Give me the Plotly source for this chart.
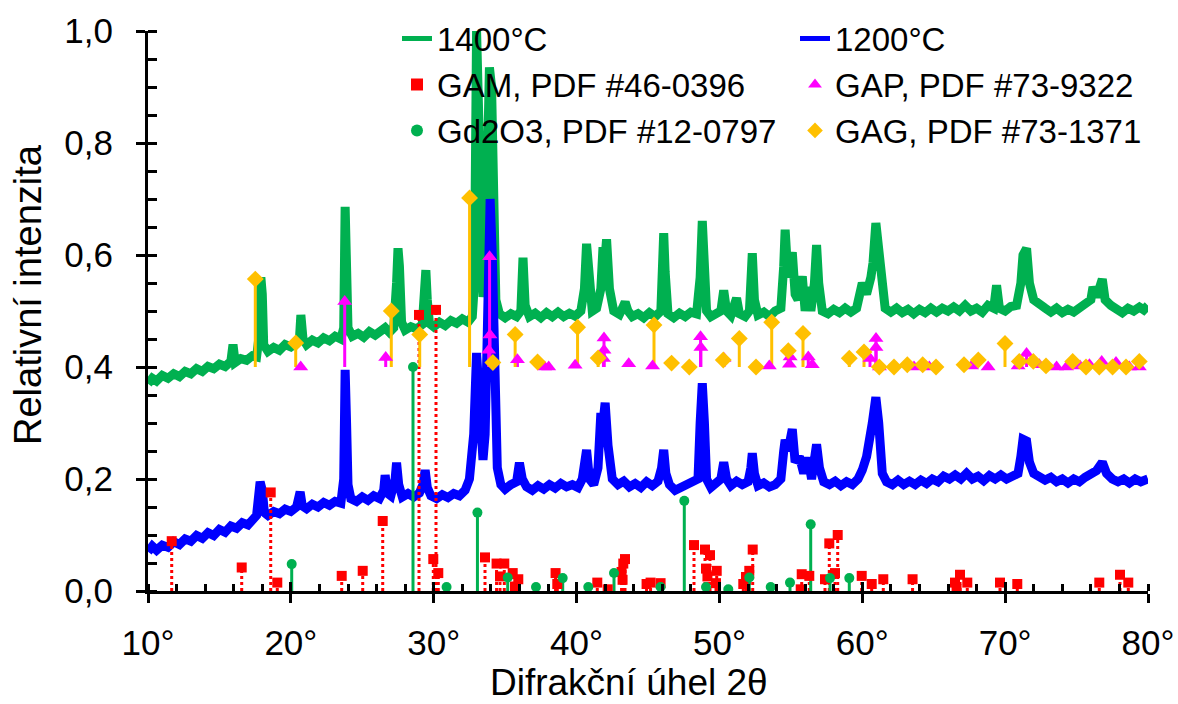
import plotly.graph_objects as go

# ---------------- data ----------------
# 1400 °C spectrum (2theta, relative intensity)
x_1400 = [10.0, 10.3, 10.6, 11.0, 11.4, 11.8, 12.2, 12.6, 13.0, 13.4, 13.8, 14.2, 14.6, 15.0, 15.4, 15.8, 15.95, 16.1,
          16.5, 16.9, 17.3, 17.6, 17.8, 17.9, 18.0, 18.1, 18.4, 18.8, 19.2, 19.6, 20.0, 20.4, 20.6, 20.7, 20.85, 21.1,
          21.5, 21.9, 22.3, 22.7, 23.1, 23.5, 23.7, 23.8, 23.9, 24.0, 24.3, 24.7, 25.1, 25.5, 25.9, 26.3, 26.6, 26.9,
          27.2, 27.4, 27.5, 27.6, 27.75, 28.0, 28.4, 28.8, 29.2, 29.35, 29.45, 29.55, 29.7, 30.0, 30.4, 30.8, 31.2,
          31.6, 32.0, 32.4, 32.7, 32.85, 33.0, 33.15, 33.3, 33.45, 33.6, 33.75, 33.9, 34.05, 34.2, 34.35, 34.6, 35.0,
          35.4, 35.8, 36.1, 36.25, 36.4, 36.7, 37.1, 37.5, 37.9, 38.3, 38.7, 39.1, 39.5, 39.9, 40.3, 40.55, 40.7,
          40.85, 41.1, 41.4, 41.7, 41.85, 41.95, 42.1, 42.3, 42.6, 43.0, 43.3, 43.4, 43.6, 43.9, 44.3, 44.7, 45.1,
          45.5, 45.9, 46.0, 46.1, 46.2, 46.4, 46.8, 47.2, 47.6, 48.0, 48.4, 48.65, 48.8, 48.95, 49.1, 49.4, 49.8,
          50.1, 50.3, 50.5, 50.8, 51.2, 51.4, 51.8, 52.1, 52.3, 52.45, 52.7, 53.1, 53.5, 53.9, 54.3, 54.5, 54.6,
          54.8, 55.1, 55.3, 55.5, 55.8, 56.0, 56.2, 56.4, 56.65, 56.8, 56.95, 57.2, 57.6, 58.0, 58.4, 58.8, 59.2,
          59.6, 60.0, 60.3, 60.6, 60.75, 60.95, 61.1, 61.3, 61.6, 62.0, 62.4, 62.8, 63.2, 63.6, 64.0, 64.4, 64.8,
          65.2, 65.6, 66.0, 66.4, 66.8, 67.2, 67.6, 68.0, 68.4, 68.8, 69.2, 69.4, 69.6, 70.0, 70.4, 70.8, 71.1,
          71.25, 71.5, 71.7, 72.0, 72.4, 72.8, 73.2, 73.6, 74.0, 74.4, 74.8, 75.2, 75.6, 76.0, 76.15, 76.4, 76.8,
          77.0, 77.4, 77.8, 78.2, 78.6, 79.0, 79.4, 79.7, 80.0]
y_1400 = [0.370, 0.380, 0.375, 0.385, 0.380, 0.388, 0.383, 0.392, 0.388, 0.397, 0.392, 0.401, 0.397, 0.405, 0.401,
          0.410, 0.440, 0.408, 0.415, 0.412, 0.420, 0.418, 0.460, 0.560, 0.530, 0.440, 0.428, 0.435, 0.430, 0.440,
          0.436, 0.443, 0.450, 0.493, 0.450, 0.440, 0.448, 0.443, 0.452, 0.447, 0.455, 0.450, 0.470, 0.686, 0.600,
          0.470, 0.455, 0.460, 0.453, 0.463, 0.457, 0.465, 0.470, 0.462, 0.470, 0.550, 0.612, 0.580, 0.480, 0.466,
          0.472, 0.468, 0.476, 0.520, 0.573, 0.520, 0.478, 0.472, 0.480, 0.474, 0.483, 0.478, 0.486, 0.480, 0.490,
          0.550, 1.000, 0.850, 0.550, 0.525, 0.560, 0.750, 0.935, 0.900, 0.620, 0.520, 0.495, 0.488, 0.495, 0.490,
          0.500, 0.595, 0.510, 0.490, 0.496, 0.488, 0.497, 0.490, 0.498, 0.490, 0.496, 0.491, 0.500, 0.540, 0.620,
          0.550, 0.500, 0.505, 0.540, 0.614, 0.580, 0.628, 0.540, 0.500, 0.494, 0.510, 0.516, 0.500, 0.490, 0.495,
          0.488, 0.497, 0.490, 0.500, 0.560, 0.639, 0.570, 0.495, 0.488, 0.496, 0.490, 0.498, 0.495, 0.560, 0.661,
          0.600, 0.500, 0.490, 0.497, 0.500, 0.537, 0.500, 0.492, 0.523, 0.495, 0.490, 0.500, 0.603, 0.520, 0.493,
          0.498, 0.490, 0.500, 0.505, 0.580, 0.645, 0.560, 0.605, 0.530, 0.520, 0.562, 0.500, 0.543, 0.500, 0.550,
          0.618, 0.550, 0.500, 0.495, 0.503, 0.497, 0.505, 0.498, 0.505, 0.550, 0.530, 0.560, 0.586, 0.657, 0.620,
          0.540, 0.505, 0.498, 0.505, 0.497, 0.503, 0.495, 0.503, 0.497, 0.505, 0.498, 0.505, 0.500, 0.507, 0.500,
          0.510, 0.500, 0.505, 0.498, 0.510, 0.505, 0.546, 0.505, 0.500, 0.508, 0.510, 0.550, 0.600, 0.612, 0.550,
          0.520, 0.510, 0.505, 0.498, 0.505, 0.497, 0.503, 0.498, 0.505, 0.510, 0.520, 0.543, 0.525, 0.557, 0.520,
          0.510, 0.503, 0.497, 0.505, 0.500, 0.507, 0.502, 0.510]

# 1200 °C spectrum
x_1200 = [10.0, 10.3, 10.6, 11.0, 11.4, 11.8, 12.2, 12.6, 13.0, 13.4, 13.8, 14.2, 14.6, 15.0, 15.4, 15.8, 16.2, 16.6,
          17.0, 17.3, 17.6, 17.85, 18.0, 18.15, 18.4, 18.8, 19.2, 19.6, 20.0, 20.4, 20.55, 20.65, 20.8, 21.1, 21.5,
          21.9, 22.3, 22.7, 23.1, 23.5, 23.7, 23.8, 23.9, 24.0, 24.2, 24.6, 25.0, 25.4, 25.8, 26.2, 26.5, 26.6,
          26.75, 27.0, 27.3, 27.4, 27.55, 27.8, 28.2, 28.6, 29.0, 29.25, 29.4, 29.55, 29.8, 30.2, 30.6, 31.0, 31.4,
          31.8, 32.2, 32.5, 32.8, 33.0, 33.15, 33.3, 33.45, 33.6, 33.8, 33.95, 34.1, 34.25, 34.45, 34.7, 35.0, 35.4,
          35.8, 36.0, 36.2, 36.5, 36.9, 37.3, 37.7, 38.1, 38.5, 38.9, 39.3, 39.7, 40.1, 40.4, 40.7, 40.9, 41.2,
          41.5, 41.7, 41.85, 42.0, 42.2, 42.5, 42.9, 43.3, 43.7, 44.1, 44.5, 44.9, 45.3, 45.7, 45.95, 46.1, 46.25,
          46.5, 46.9, 47.3, 47.7, 48.1, 48.5, 48.65, 48.8, 48.95, 49.1, 49.4, 49.8, 50.1, 50.3, 50.5, 50.8, 51.2,
          51.6, 52.0, 52.2, 52.3, 52.45, 52.7, 53.1, 53.5, 53.9, 54.3, 54.5, 54.6, 54.8, 55.1, 55.3, 55.6, 55.9,
          56.2, 56.45, 56.7, 56.8, 57.0, 57.3, 57.7, 58.1, 58.5, 58.9, 59.3, 59.7, 60.0, 60.3, 60.7, 60.95, 61.15,
          61.4, 61.7, 62.1, 62.5, 62.9, 63.3, 63.7, 64.1, 64.5, 64.9, 65.3, 65.7, 66.1, 66.5, 66.9, 67.3, 67.7,
          68.1, 68.5, 68.9, 69.3, 69.7, 70.1, 70.5, 70.9, 71.1, 71.25, 71.5, 71.7, 72.0, 72.4, 72.8, 73.2, 73.6,
          74.0, 74.4, 74.8, 75.2, 75.6, 76.0, 76.4, 76.8, 77.1, 77.5, 77.9, 78.3, 78.7, 79.1, 79.5, 80.0]
y_1200 = [0.070, 0.080, 0.073, 0.082, 0.078, 0.088, 0.083, 0.093, 0.089, 0.099, 0.094, 0.104, 0.099, 0.110, 0.105,
          0.116, 0.112, 0.122, 0.118, 0.128, 0.135, 0.195, 0.180, 0.140, 0.135, 0.142, 0.138, 0.146, 0.142, 0.150,
          0.160, 0.177, 0.152, 0.147, 0.155, 0.150, 0.158, 0.153, 0.160, 0.157, 0.200, 0.395, 0.300, 0.190, 0.165,
          0.160, 0.168, 0.162, 0.170, 0.165, 0.180, 0.207, 0.175, 0.170, 0.200, 0.229, 0.190, 0.168, 0.174, 0.168,
          0.175, 0.190, 0.216, 0.185, 0.170, 0.165, 0.172, 0.167, 0.174, 0.170, 0.180, 0.200, 0.280, 0.425, 0.330,
          0.245, 0.234, 0.280, 0.550, 0.700, 0.600, 0.350, 0.220, 0.190, 0.182, 0.190, 0.195, 0.229, 0.200, 0.186,
          0.180, 0.188, 0.182, 0.190, 0.184, 0.192, 0.186, 0.190, 0.185, 0.200, 0.252, 0.200, 0.190, 0.220, 0.318,
          0.300, 0.336, 0.260, 0.200, 0.190, 0.196, 0.186, 0.192, 0.185, 0.195, 0.188, 0.196, 0.220, 0.252, 0.210,
          0.190, 0.180, 0.186, 0.190, 0.195, 0.200, 0.300, 0.371, 0.300, 0.200, 0.185, 0.192, 0.200, 0.230, 0.200,
          0.188, 0.196, 0.190, 0.195, 0.220, 0.246, 0.210, 0.188, 0.193, 0.186, 0.190, 0.200, 0.250, 0.270, 0.250,
          0.289, 0.230, 0.240, 0.210, 0.238, 0.200, 0.240, 0.262, 0.220, 0.195, 0.190, 0.196, 0.188, 0.195, 0.190,
          0.200, 0.216, 0.240, 0.300, 0.346, 0.300, 0.210, 0.195, 0.190, 0.198, 0.190, 0.196, 0.190, 0.198, 0.192,
          0.200, 0.195, 0.205, 0.200, 0.207, 0.200, 0.210, 0.200, 0.205, 0.197, 0.206, 0.200, 0.207, 0.200, 0.205,
          0.210, 0.240, 0.271, 0.268, 0.230, 0.210, 0.205, 0.198, 0.203, 0.195, 0.200, 0.193, 0.200, 0.195, 0.203,
          0.208, 0.215, 0.230, 0.210, 0.200, 0.195, 0.200, 0.193, 0.200, 0.195, 0.200]

# Reference patterns (2theta, relative intensity); sticks start at a base level
gam_x = [11.66, 16.56, 18.59, 19.05, 23.56, 25.03, 26.43, 28.97, 29.97, 30.16, 30.32, 33.59, 34.40, 34.64, 34.94,
         35.53, 35.69, 35.92, 38.53, 38.65, 41.45, 42.18, 43.15, 43.27, 43.39, 43.22, 44.90, 45.18, 45.88, 48.22,
         48.99, 49.06, 49.16, 49.34, 49.76, 49.81, 51.67, 51.86, 52.09, 52.33, 55.69, 55.76, 56.29, 57.39, 57.69,
         58.09, 58.28, 59.96, 60.66, 61.47, 63.52, 66.49, 66.60, 66.84, 67.35, 69.64, 70.85, 76.59, 78.04, 78.62]
gam_y = [0.089, 0.042, 0.176, 0.015, 0.027, 0.036, 0.125, 0.493, 0.057, 0.502, 0.032, 0.060, 0.049, 0.026, 0.049,
         0.032, 0.008, 0.021, 0.032, 0.0125, 0.015, 0.003, 0.034, 0.049, 0.057, 0.020, 0.0125, 0.015, 0.014, 0.082,
         0.074, 0.040, 0.026, 0.064, 0.014, 0.036, 0.0125, 0.025, 0.036, 0.074, 0.003, 0.030, 0.027, 0.021, 0.085,
         0.032, 0.100, 0.027, 0.0125, 0.021, 0.021, 0.015, 0.003, 0.029, 0.015, 0.015, 0.0125, 0.015, 0.029, 0.015]

gap_x = [20.69, 23.77, 26.64, 33.85, 33.91, 33.94, 35.86, 37.76, 38.05, 39.90, 41.88, 41.92, 41.92, 43.65, 45.32,
         48.68, 48.70, 50.32, 53.49, 54.90, 54.95, 56.22, 56.50, 60.54, 60.96, 60.96, 61.20, 63.62, 64.69, 67.65,
         68.81, 70.91, 71.50, 72.39, 73.60, 74.30, 75.24, 75.90, 76.76, 77.76, 78.69, 79.39]
gap_y = [0.400, 0.517, 0.417, 0.430, 0.597, 0.457, 0.413, 0.400, 0.400, 0.403, 0.415, 0.430, 0.452, 0.406, 0.402,
         0.454, 0.435, 0.415, 0.402, 0.405, 0.418, 0.418, 0.404, 0.415, 0.435, 0.451, 0.400, 0.400, 0.400, 0.402,
         0.400, 0.402, 0.424, 0.404, 0.400, 0.400, 0.402, 0.404, 0.410, 0.408, 0.400, 0.400]

gd2o3_x = [20.06, 28.55, 30.90, 33.06, 35.18, 37.16, 39.03, 40.82, 42.62, 45.88, 47.54, 49.06, 50.62, 52.09, 53.59,
           54.94, 56.39, 57.74, 59.09]
gd2o3_y = [0.048, 0.400, 0.007, 0.140, 0.024, 0.007, 0.023, 0.007, 0.032, 0.007, 0.161, 0.007, 0.003, 0.024, 0.007,
           0.015, 0.119, 0.023, 0.023]

gag_x = [17.51, 20.34, 27.03, 29.02, 32.51, 34.14, 35.70, 37.27, 40.07, 41.51, 45.42, 46.65, 47.89, 50.27, 51.39,
         52.56, 53.66, 54.82, 55.85, 59.09, 60.12, 61.19, 62.22, 63.15, 64.23, 65.16, 67.12, 68.12, 69.99, 70.99,
         71.97, 72.86, 74.73, 75.66, 76.59, 77.52, 78.46, 79.39]
gag_y = [0.557, 0.443, 0.500, 0.458, 0.702, 0.408, 0.458, 0.409, 0.471, 0.416, 0.475, 0.407, 0.400, 0.4125, 0.451,
         0.400, 0.480, 0.429, 0.460, 0.4155, 0.427, 0.400, 0.400, 0.404, 0.404, 0.400, 0.404, 0.4125, 0.442, 0.410,
         0.410, 0.402, 0.410, 0.400, 0.400, 0.400, 0.400, 0.410]

BASE_LOW = 0.0
BASE_HIGH = 0.4

x_ticks = [10, 20, 30, 40, 50, 60, 70, 80]
x_tick_text = ["10°", "20°", "30°", "40°", "50°", "60°", "70°", "80°"]
y_ticks = [0.0, 0.2, 0.4, 0.6, 0.8, 1.0]

GREEN = "#00B050"
BLUE = "#0000FF"
RED = "#FF0000"
MAGENTA = "#FF00FF"
ORANGE = "#FFC000"
FONT = "Liberation Sans, Arial, sans-serif"

Y_DOMAIN_TOP = 560 / 591  # plot area 31..591 px inside a 591 px tall paper (top margin 0)


def stick_xy(xs, ys, base):
    sx, sy = [], []
    for a, b in zip(xs, ys):
        sx += [a, a, None]
        sy += [base, b, None]
    return sx, sy


fig = go.Figure()

fig.add_trace(go.Scatter(x=x_1400, y=y_1400, mode="lines", name="1400°C", showlegend=False,
                         line=dict(color=GREEN, width=9)))
fig.add_trace(go.Scatter(x=x_1200, y=y_1200, mode="lines", name="1200°C", showlegend=False,
                         line=dict(color=BLUE, width=9)))
# legend entries for the two spectra (thinner line symbol, like the reference legend)
fig.add_trace(go.Scatter(x=[None], y=[None], mode="lines", name="1400°C", legend="legend",
                         line=dict(color=GREEN, width=4), hoverinfo="skip"))
fig.add_trace(go.Scatter(x=[None], y=[None], mode="lines", name="1200°C", legend="legend2",
                         line=dict(color=BLUE, width=4), hoverinfo="skip"))

series = [
    ("GAM, PDF #46-0396", gam_x, gam_y, BASE_LOW, RED, "square", 10, "dot", "legend"),
    ("GAP, PDF #73-9322", gap_x, gap_y, BASE_HIGH, MAGENTA, "triangle-up", 13, "solid", "legend2"),
    ("Gd2O3, PDF #12-0797", gd2o3_x, gd2o3_y, BASE_LOW, GREEN, "circle", 10, "solid", "legend"),
    ("GAG, PDF #73-1371", gag_x, gag_y, BASE_HIGH, ORANGE, "diamond", 13, "solid", "legend2"),
]
for name, xs, ys, base, col, sym, size, dash, lg in series:
    sx, sy = stick_xy(xs, ys, base)
    fig.add_trace(go.Scatter(x=sx, y=sy, mode="lines", showlegend=False, hoverinfo="skip",
                             line=dict(color=col, width=3, dash=dash)))
for name, xs, ys, base, col, sym, size, dash, lg in series:
    fig.add_trace(go.Scatter(x=xs, y=ys, mode="markers", name=name, legend=lg,
                             marker=dict(color=col, symbol=sym, size=size, line=dict(width=0))))

# dummy trace for the overlay axes that draw the inner half of the major ticks
fig.add_trace(go.Scatter(x=[None], y=[None], xaxis="x2", yaxis="y2", showlegend=False, hoverinfo="skip"))

axis_common = dict(showline=True, linecolor="black", linewidth=3, showgrid=False, zeroline=False,
                   ticks="outside", ticklen=9, tickwidth=3, tickcolor="black", automargin=False)

legend_common = dict(orientation="v", yanchor="top", xanchor="left", bgcolor="rgba(0,0,0,0)",
                     font=dict(size=33), itemwidth=30, tracegroupgap=0, traceorder="normal")

fig.update_layout(
    width=1178, height=704,
    margin=dict(l=148, r=30, t=0, b=113),
    paper_bgcolor="white", plot_bgcolor="white",
    separators=", ",
    font=dict(family=FONT, size=34, color="black"),
    xaxis=dict(range=[10, 80], tickvals=x_ticks, ticktext=x_tick_text,
               tickfont=dict(size=35), ticklabelstandoff=10,
               minor=dict(ticks="inside", dtick=2, tick0=10, ticklen=7, tickwidth=3, tickcolor="black"),
               **axis_common),
    yaxis=dict(range=[0, 1], domain=[0, Y_DOMAIN_TOP], tickvals=y_ticks, tickformat=".1f",
               tickfont=dict(size=35), ticklabelstandoff=16,
               minor=dict(ticks="inside", dtick=0.05, tick0=0, ticklen=9, tickwidth=3, tickcolor="black"),
               **axis_common),
    xaxis2=dict(range=[10, 80], overlaying="x", anchor="y2", side="bottom", tickvals=x_ticks,
                showticklabels=False, ticks="inside", ticklen=9, tickwidth=3, tickcolor="black",
                showline=False, showgrid=False, zeroline=False, automargin=False),
    yaxis2=dict(range=[0, 1], domain=[0, Y_DOMAIN_TOP], overlaying="y", anchor="x2", side="left",
                tickvals=y_ticks, showticklabels=False, ticks="inside", ticklen=9, tickwidth=3,
                tickcolor="black", showline=False, showgrid=False, zeroline=False, automargin=False),
    legend=dict(x=0.249, y=0.982, itemsizing="constant", **legend_common),
    legend2=dict(x=0.647, y=0.982, itemsizing="constant", **legend_common),
    showlegend=True,
    annotations=[
        dict(text="Difrakční úhel 2θ", xref="paper", yref="paper", x=0.481, y=-0.155,
             xanchor="center", yanchor="middle", showarrow=False, font=dict(size=37)),
        dict(text="Relativní intenzita", xref="paper", yref="paper", x=-0.12, y=0.5008,
             xanchor="center", yanchor="middle", showarrow=False, textangle=-90, font=dict(size=38)),
    ],
)

fig.write_html("out.html")
